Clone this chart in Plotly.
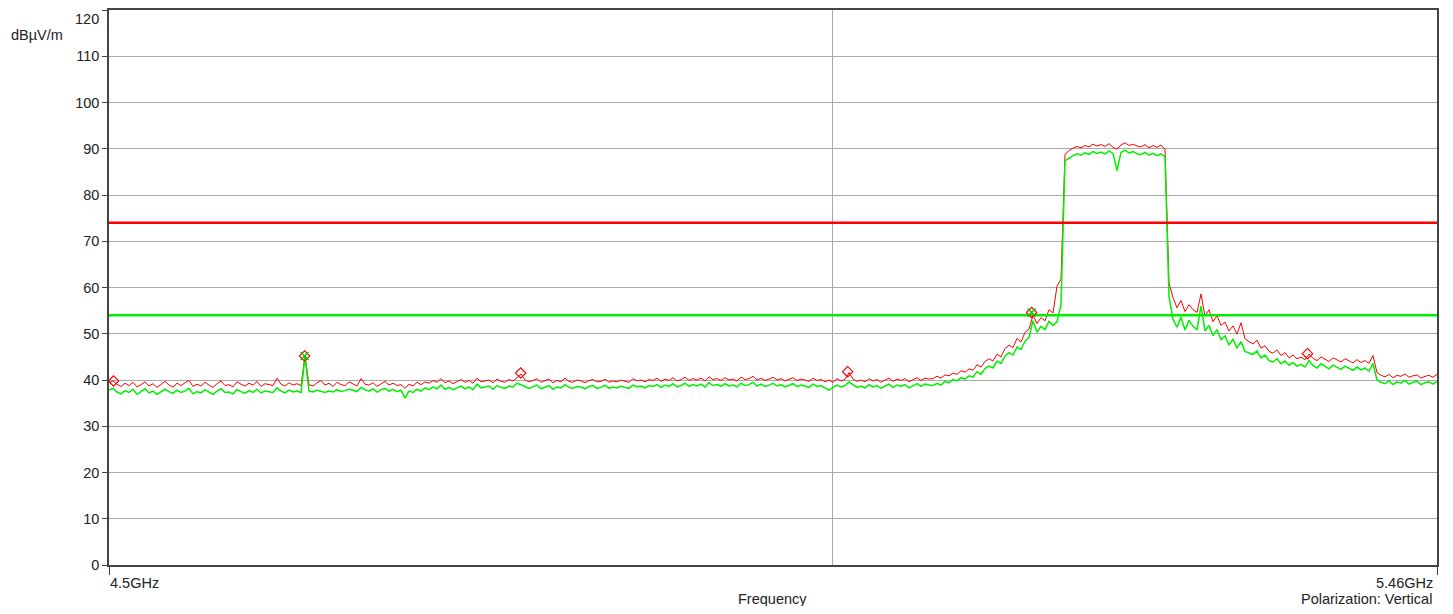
import numpy as np
import plotly.graph_objects as go

# Sweep: log-spaced frequency points (GHz)
f_start = 4.5
f_stop = 5.46

peak_red = [
    39.4, 39.8, 39.1, 38.6, 39.3, 38.8, 39.5, 38.5, 39.0, 39.6,
    38.7, 39.2, 38.4, 39.0, 39.7, 38.9, 38.5, 39.3, 38.8, 39.4,
    39.9, 38.6, 39.1, 38.7, 39.5, 38.9, 38.4, 39.2, 39.8, 38.8,
    39.0, 38.5, 39.6, 39.1, 38.7, 39.3, 38.9, 39.7, 38.6, 39.2,
    39.0, 38.8, 40.4, 39.1, 38.7, 39.4, 38.9, 39.2,
    38.8, 45.2, 39.0,
    38.7, 39.4, 39.9, 38.9, 39.3, 38.6, 39.5, 39.0, 38.8, 39.6,
    39.2, 38.7, 40.3, 39.1, 38.9, 39.4, 38.6, 39.2, 39.7, 38.9,
    39.3, 38.8, 39.0, 38.2, 39.1, 38.7, 39.5,
    39.0, 39.6, 39.3, 39.9, 39.5, 40.3, 39.4, 39.8, 39.2, 39.7,
    40.1, 39.5, 39.9, 39.3, 40.4, 39.6, 39.8, 40.0, 39.4, 40.2,
    39.7, 39.5, 40.1, 39.8, 40.5, 41.3, 40.0, 39.6, 39.9, 40.3,
    39.5, 39.8, 40.2, 39.4, 39.9, 39.6, 40.4, 39.7, 39.5, 40.0,
    39.8, 39.4, 39.9, 40.1, 39.6, 39.7, 40.2, 39.5, 39.8, 39.6,
    40.0, 39.7, 39.5, 40.3, 39.8, 40.0, 39.6, 40.1, 39.9, 40.4,
    39.7, 40.2, 39.9, 40.5, 39.8, 40.1, 40.6, 39.9, 40.3, 40.0,
    40.4, 39.8, 40.7, 40.1, 40.3, 39.9, 40.5, 40.0, 40.2, 39.8,
    40.6, 40.1, 40.3, 40.8, 40.0, 40.4, 39.9, 40.2, 40.6, 40.0,
    40.3, 39.8, 40.1, 40.5, 39.9, 40.2, 40.0, 39.7, 40.4, 39.9,
    40.1, 39.6, 40.0,
    39.5, 40.3, 39.8, 40.1, 41.6, 40.2, 39.7, 40.0, 39.6, 40.3,
    39.8, 40.1, 39.5, 40.0, 40.4, 39.7, 40.2, 39.9, 40.3, 39.6,
    40.1, 40.5, 39.9, 40.4, 40.2,
    40.3, 40.8, 40.4, 41.1, 40.9, 41.5, 41.2, 42.0, 41.7, 42.4,
    42.1, 43.3, 42.8, 44.0, 44.6, 44.1, 45.6, 45.0, 46.8, 47.5,
    47.0, 49.0, 48.2, 50.3, 51.0, 54.0, 52.2, 53.5, 52.8, 55.2,
    54.5, 60.3, 61.8,
    88.8,
    89.6, 90.1, 90.5, 90.2, 90.7, 90.4, 91.0, 90.6, 90.9, 90.5,
    91.1, 90.3, 89.9, 90.8, 91.3, 90.7, 91.0, 90.6, 90.4, 90.9,
    90.2, 90.7, 90.3, 90.8,
    89.9,
    61.0, 57.8,
    55.6, 57.2, 54.8, 56.3, 55.2, 54.6,
    58.6,
    53.8, 55.2, 52.6, 53.9, 51.8, 52.5, 50.6, 51.7, 49.9, 52.4, 48.9, 48.3,
    47.8, 48.6, 46.9, 47.4, 46.2, 45.8, 46.5, 45.3, 45.9, 44.8, 45.4, 44.6,
    44.9, 44.4, 45.6, 44.7, 44.2, 45.0, 44.5, 44.0, 44.8, 44.3,
    43.9, 44.6, 44.1, 43.7, 44.4, 43.8, 44.2, 43.6, 45.3,
    41.6, 41.0, 40.7, 41.2, 40.5, 41.0, 40.8, 41.3, 40.6, 40.9,
    41.1, 40.4, 40.8, 41.0, 40.6, 41.2,
]

avg_green = [
    37.8, 38.2, 37.4, 37.0, 37.7, 37.3, 38.0, 36.9, 37.5, 38.1,
    37.2, 37.6, 36.9, 37.4, 38.0, 37.5, 37.1, 37.8, 37.3, 37.6,
    38.2, 37.0, 37.5, 37.2, 37.9, 37.4, 36.9, 37.6, 38.1, 37.3,
    37.4, 37.0, 37.9, 37.5, 37.1, 37.7, 37.3, 38.0, 37.2, 37.6,
    37.5, 37.3, 38.3, 37.6, 37.2, 37.8, 37.4, 37.6,
    37.3, 45.0, 37.6,
    37.4, 37.8, 37.5, 37.3, 37.6, 37.4, 37.9, 37.5, 37.7, 38.0,
    37.8, 37.5, 38.4, 37.9, 37.6, 38.1, 37.4, 37.9, 38.2, 37.6,
    38.0, 37.5, 37.8, 36.1, 37.6, 37.3, 38.0,
    37.6, 38.3, 37.9, 38.5, 38.1, 38.9, 38.0, 38.4, 37.9, 38.3,
    38.7, 38.1, 38.5, 37.9, 39.1, 38.3, 38.5, 38.7, 38.0, 38.8,
    38.4, 38.2, 38.7, 38.5, 39.3, 39.0, 38.6, 38.2, 38.5, 38.9,
    38.1, 38.4, 38.8, 38.0, 38.5, 38.3, 39.0, 38.4, 38.2, 38.6,
    38.5, 38.1, 38.6, 38.8, 38.2, 38.4, 38.9, 38.2, 38.5, 38.3,
    38.7, 38.4, 38.2, 38.9, 38.5, 38.7, 38.3, 38.8, 38.6, 39.0,
    38.4, 38.9, 38.6, 39.2, 38.5, 38.8, 39.3, 38.6, 39.0, 38.7,
    39.1, 38.5, 39.4, 38.8, 39.0, 38.6, 39.2, 38.7, 38.9, 38.5,
    39.3, 38.8, 39.0, 39.5, 38.7, 39.1, 38.6, 38.9, 39.3, 38.7,
    39.0, 38.5, 38.8, 39.2, 38.6, 38.9, 38.7, 38.4, 39.1, 38.6,
    38.8, 38.3, 37.8,
    38.4, 38.9, 38.5, 38.8, 39.6, 38.9, 38.4, 38.7, 38.3, 39.0,
    38.5, 38.8, 38.2, 38.7, 39.1, 38.4, 38.9, 38.6, 39.0, 38.3,
    38.8, 39.2, 38.6, 39.1, 38.9,
    38.8, 39.3, 38.9, 39.7, 39.4, 40.1, 39.8, 40.5, 40.2, 40.9,
    40.6, 41.8, 41.2, 42.5, 43.0, 42.6, 44.1, 43.6, 45.2, 45.9,
    45.4, 47.1, 46.6, 48.4, 49.2, 52.8, 50.3, 51.6, 50.9, 52.7,
    51.8, 52.6, 56.2,
    87.4,
    88.0, 88.5, 88.9, 88.6, 89.1, 88.8, 89.4, 89.0, 89.3, 88.9,
    89.5, 89.0, 85.3, 89.2, 89.7, 89.1, 89.4, 88.9, 88.7, 89.2,
    88.6, 89.0, 88.5, 88.9,
    88.3,
    58.0, 53.2,
    51.4, 53.6, 50.8, 52.9, 51.6, 50.9,
    56.0,
    50.6, 51.8, 49.6, 50.9, 48.7, 49.5, 47.6, 48.8, 46.9, 48.3, 46.2, 45.9,
    45.5, 46.3, 44.8, 45.4, 44.2, 43.9, 44.6, 43.5, 44.1, 43.2, 43.8, 43.0,
    43.4, 42.8, 44.2, 43.1, 42.6, 43.5, 42.9, 42.4, 43.2, 42.7,
    42.3, 43.0, 42.5, 42.1, 42.8, 42.2, 42.6, 41.9, 43.6,
    40.0, 39.5, 39.2, 39.8, 39.0, 39.6, 39.3, 39.9, 39.1, 39.5,
    39.7, 39.0, 39.4, 39.6, 39.1, 39.7,
]

# Limit lines
limit_x = [4.5, 5.46]
limit_peak = [74, 74]
limit_avg = [54, 54]

# Marker points
mk_red_f = [4.503, 4.630, 4.778, 5.011, 5.147, 5.358]
mk_red_v = [39.8, 45.2, 41.5, 41.8, 54.6, 45.7]
mk_green_f = [4.630, 5.147]
mk_green_v = [45.2, 54.6]

y_ticks = list(range(0, 130, 10))
y_ticktext = [str(v) for v in y_ticks[:-1]] + [""]

f_red = np.geomspace(f_start, f_stop, len(peak_red))
f_green = np.geomspace(f_start, f_stop, len(avg_green))

FONT = "Liberation Sans, Arial, sans-serif"
TXT = "#222222"
FS = 14.5

# page has 8px body margin: figure placed at (8, 8)
OFF = 8
W = 1453 - 2 * OFF
H = 614 - 2 * OFF
L, R, T, B = 109 - OFF, W - (1437 - OFF), 0, H - (565 - OFF)

fig = go.Figure()
fig.add_trace(go.Scatter(x=f_red, y=peak_red, mode="lines",
                         line=dict(color="#ff0000", width=1), showlegend=False))
fig.add_trace(go.Scatter(x=f_green, y=avg_green, mode="lines",
                         line=dict(color="#00f000", width=1.5), showlegend=False))
fig.add_trace(go.Scatter(x=limit_x, y=limit_peak, mode="lines",
                         line=dict(color="#ff0000", width=2.5), showlegend=False))
fig.add_trace(go.Scatter(x=limit_x, y=limit_avg, mode="lines",
                         line=dict(color="#00f000", width=2.5), showlegend=False))
fig.add_trace(go.Scatter(x=mk_red_f, y=mk_red_v, mode="markers",
                         marker=dict(symbol="diamond-open", color="#ff0000", size=8,
                                     line=dict(width=1.2)), showlegend=False))
fig.add_trace(go.Scatter(x=mk_green_f, y=mk_green_v, mode="markers",
                         marker=dict(symbol="x-thin-open", color="#00cc00", size=8,
                                     line=dict(width=1.5, color="#00cc00")), showlegend=False))

fig.update_layout(
    width=W, height=H,
    margin=dict(l=L, r=R, t=T, b=B, pad=0),
    paper_bgcolor="white", plot_bgcolor="white",
    font=dict(family=FONT, size=FS, color=TXT),
    xaxis=dict(
        type="log",
        range=[np.log10(f_start), np.log10(f_stop)],
        tickvals=[f_start, f_stop], ticktext=["", ""],
        ticks="outside", ticklen=8, tickcolor="#444",
        showgrid=False, zeroline=False,
        showline=True, linecolor="#444", linewidth=1.5, mirror=True,
        minor=dict(tickvals=[5.0], showgrid=True, gridcolor="#a8a8a8",
                   gridwidth=1, ticks=""),
    ),
    yaxis=dict(
        range=[0, 120],
        tickvals=y_ticks, ticktext=y_ticktext,
        ticks="outside", ticklen=5, tickcolor="#444",
        showgrid=True, gridcolor="#a8a8a8", gridwidth=1,
        zeroline=False,
        showline=True, linecolor="#444", linewidth=1.5, mirror=True,
        tickfont=dict(size=FS, color=TXT),
    ),
)

pw = 1437 - 109
ph = 565 - 8
def px(x):
    return (x - 109) / pw
def py(y):
    return (565 - y) / ph

annots = [
    dict(text="120", x=px(101), y=py(17), xanchor="right", yanchor="middle"),
    dict(text="dBµV/m", x=px(37), y=py(33), xanchor="center", yanchor="middle"),
    dict(text="4.5GHz", x=px(108), y=py(583), xanchor="left", yanchor="middle"),
    dict(text="5.46GHz", x=px(1435), y=py(583), xanchor="right", yanchor="middle"),
    dict(text="Frequency", x=px(772), y=py(599), xanchor="center", yanchor="middle"),
    dict(text="Polarization: Vertical", x=px(1434), y=py(599), xanchor="right", yanchor="middle"),
]
for a in annots:
    fig.add_annotation(xref="paper", yref="paper", showarrow=False,
                       font=dict(family=FONT, size=FS, color=TXT), **a)

fig.write_html("out.html")
